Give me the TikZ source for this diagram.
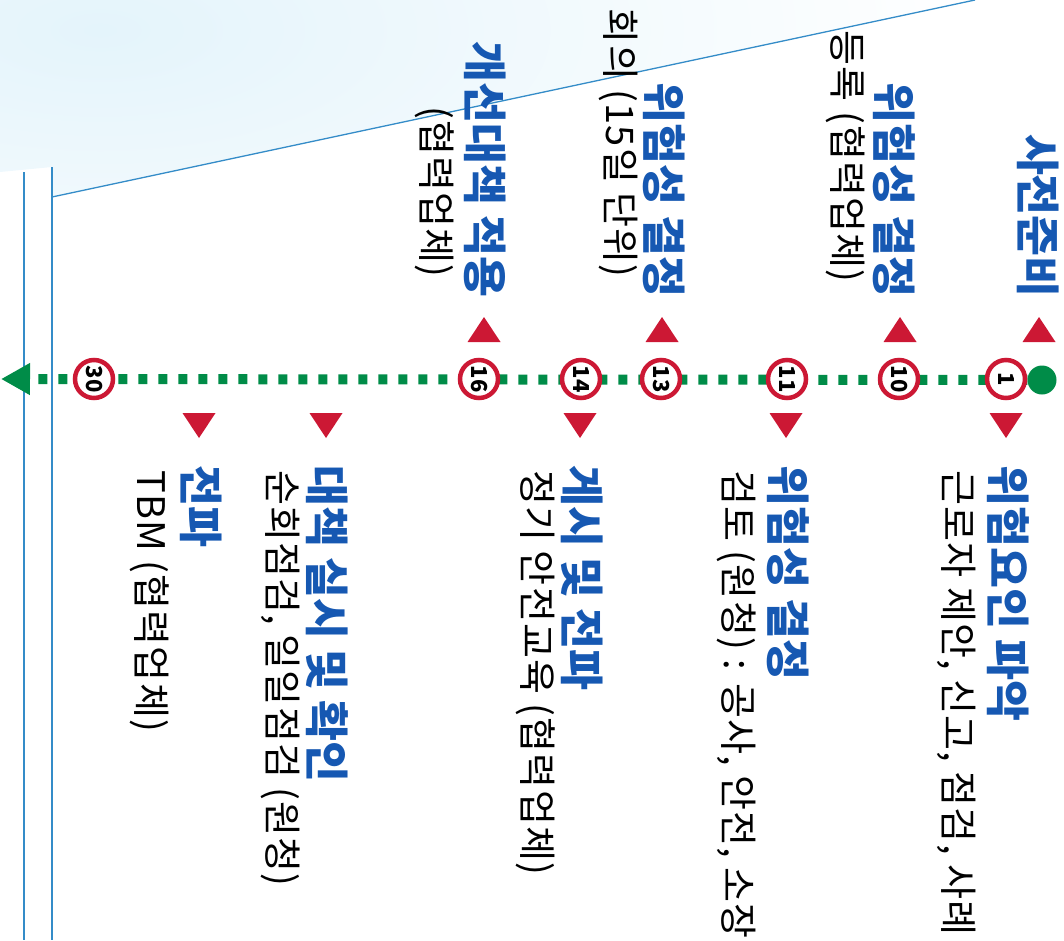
\documentclass[tikz,border=0pt]{standalone}
\usepackage{fontspec}
\newfontfamily\kr{Noto Sans CJK KR}
\newfontfamily\krnote[LetterSpace=3]{Noto Sans CJK KR}
\usepackage{tikz}
\usetikzlibrary{arrows.meta, positioning}

\definecolor{markred}{RGB}{204,24,52}
\definecolor{timegreen}{RGB}{0,140,72}
\definecolor{titleblue}{RGB}{22,88,178}
\definecolor{guideblue}{RGB}{52,140,200}
\definecolor{washblue}{RGB}{228,244,251}

\tikzset{
  daynum/.style={circle, draw=markred, line width=4.5pt, fill=white, minimum size=38pt,
    inner sep=0pt, rotate=-90, font=\kr\bfseries\fontsize{22}{22}\selectfont},
  steptitle/.style={rotate=-90, inner sep=0pt, text=titleblue,
    font=\kr\bfseries\fontsize{44.5}{44.5}\selectfont},
  stepnote/.style={rotate=-90, inner sep=0pt, font=\krnote\fontsize{38}{38}\selectfont},
  guide/.style={draw=guideblue, line width=1.3pt},
  timeline/.style={draw=timegreen, line width=10pt, dash pattern=on 9pt off 11pt,
    -{Triangle[length=29pt,width=30pt]}},
  upmark/.pic={\fill[markred] (-16.5pt,-12.5pt) -- (16.5pt,-12.5pt) -- (0pt,12.5pt) -- cycle;},
  downmark/.pic={\fill[markred] (-16.5pt,12.5pt) -- (16.5pt,12.5pt) -- (0pt,-12.5pt) -- cycle;}
}

\begin{document}
\begin{tikzpicture}[x=1pt, y=-1pt]
        \useasboundingbox (0,0) rectangle (1064,940);
        % Background wash and guide lines
        \begin{scope}
          \clip (0,0) -- (975,0) -- (52,197) -- (52,167) -- (0,172) -- cycle;
          \shade[inner color=washblue, outer color=white] (100,30) ellipse [x radius=900, y radius=380];
        \end{scope}
        \draw[guide] (52,197) -- (975,0);
        \draw[guide] (52,167) -- (52,940);
        \draw[guide] (24,172) -- (24,940);
        % Time line
        \node[circle, fill=timegreen, minimum size=29pt, inner sep=0pt] (start) at (1042,380) {};
        \coordinate (finish) at (1,379);
        \draw[timeline] (start) -- (finish);
        % Day circles
        \node[daynum] (d1) at (1006,379) {1};
        \node[daynum] (d10) at (899,379) {10};
        \node[daynum] (d11) at (787,379) {11};
        \node[daynum] (d13) at (661,379) {13};
        \node[daynum] (d14) at (581,379) {14};
        \node[daynum] (d16) at (479,379) {16};
        \node[daynum] (d30) at (94,379) {30};
        % Markers above
        \pic at (1039,329.5) {upmark};
        \pic at (900,329.5) {upmark};
        \pic at (662,329.5) {upmark};
        \pic at (484,329.5) {upmark};
        % Markers below
        \pic at (1006,425.5) {downmark};
        \pic at (786,425.5) {downmark};
        \pic at (580,425.5) {downmark};
        \pic at (326,425.5) {downmark};
        \pic at (199,425.5) {downmark};
        % Labels above the line
        \node[steptitle, anchor=east] (prep) at (1038,298) {사전준비};
        \node[steptitle, anchor=east] (decide10) at (894,298) {위험성 결정};
        \node[stepnote, anchor=east] (decide10note) at (846,283) {등록 (협력업체)};
        \node[steptitle, anchor=east] (decide13) at (664,298) {위험성 결정};
        \node[stepnote, anchor=east] (decide13note) at (618,278) {회의 (15일 단위)};
        \node[steptitle, anchor=east] (apply) at (485,298) {개선대책 적용};
        \node[stepnote, anchor=east] (applynote) at (435,278) {(협력업체)};
        % Labels below the line
        \node[steptitle, anchor=west] (find) at (1008,465) {위험요인 파악};
        \node[stepnote, anchor=west] (findnote) at (957,470) {근로자 제안, 신고, 점검, 사례};
        \node[steptitle, anchor=west] (decide11) at (788,465) {위험성 결정};
        \node[stepnote, anchor=west] (decide11note) at (737,470) {검토 (원청) : 공사, 안전, 소장};
        \node[steptitle, anchor=west] (post) at (582,465) {게시 및 전파};
        \node[stepnote, anchor=west] (postnote) at (536,470) {정기 안전교육 (협력업체)};
        \node[steptitle, anchor=west] (check) at (327,465) {대책 실시 및 확인};
        \node[stepnote, anchor=west] (checknote) at (281,470) {순회점검, 일일점검 (원청)};
        \node[steptitle, anchor=west] (spread) at (201,465) {전파};
        \node[stepnote, anchor=west] (spreadnote) at (150,470) {TBM (협력업체)};
    \end{tikzpicture}
\end{document}
